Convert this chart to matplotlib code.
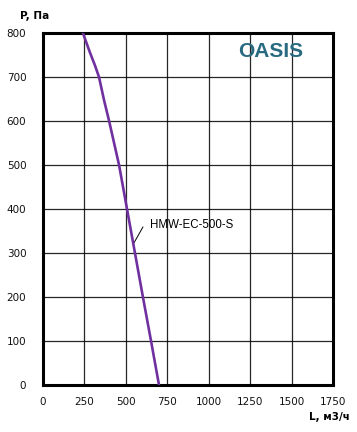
import numpy as np
import matplotlib.pyplot as plt

# Характеристика вентилятора
flow = [241, 262, 284, 312, 338, 368, 399, 459, 507, 555, 603, 652, 700]   # L, м3/ч
pressure = [800, 778, 755, 728, 700, 648, 600, 500, 400, 300, 200, 100, 0]  # P, Па

x_ticks = [0, 250, 500, 750, 1000, 1250, 1500, 1750]
y_ticks = [0, 100, 200, 300, 400, 500, 600, 700, 800]
model = "HMW-EC-500-S"

fig = plt.figure(figsize=(3.57, 4.32), dpi=100)
ax = fig.add_axes([0.1204, 0.1088, 0.8124, 0.8148])

ax.plot(flow, pressure, color='#7030a0', lw=1.9, zorder=3, solid_joinstyle='round')

ax.set_xlim(0, 1750)
ax.set_ylim(0, 800)
ax.set_xticks(x_ticks)
ax.set_yticks(y_ticks)
ax.grid(True, color='black', lw=0.9, alpha=0.85)
ax.tick_params(length=0, labelsize=7.5, colors='#111111')
ax.tick_params(axis='x', pad=9)
ax.tick_params(axis='y', pad=12)
for s in ax.spines.values():
    s.set_linewidth(2.2)

fig.text(0.056, 0.975, "P, Па", fontsize=7.5, fontweight='bold', ha='left', va='top')
fig.text(0.98, 0.022, "L, м3/ч", fontsize=7.5, fontweight='bold', ha='right', va='bottom')

ax.text(1376, 757, "OASIS", family='Liberation Sans', fontsize=15, fontweight='bold',
        color='#2a6a80', ha='center', va='center')

ax.plot([549, 603], [323, 359], color='black', lw=0.7)
ax.text(646, 364, model, family='Liberation Sans', fontsize=8.3, ha='left', va='center')

fig.savefig("out.png", dpi=100)
